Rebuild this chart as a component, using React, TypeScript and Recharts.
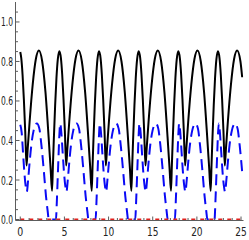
import { LineChart, Line, XAxis, YAxis } from "recharts";

const FRAME = "#5c5c5c";
const LABEL = "#222";
const FONT = "'Liberation Sans Narrow', 'DejaVu Sans Condensed', 'Liberation Sans', sans-serif";

// tick positions (Mathematica-style frame: majors labelled, minors unlabelled)
const xMajorTicks = [0, 5, 10, 15, 20, 25];
const xMinorTicks = [1, 2, 3, 4, 6, 7, 8, 9, 11, 12, 13, 14, 16, 17, 18, 19, 21, 22, 23, 24];
const yMajorTicks = [0, 0.2, 0.4, 0.6, 0.8, 1.0];
const yMinorTicks = [0.05, 0.1, 0.15, 0.25, 0.3, 0.35, 0.45, 0.5, 0.55, 0.65, 0.7, 0.75, 0.85, 0.9, 0.95, 1.05];

// black solid curve
const blackT = [
  0, 0.11, 0.26, 0.41, 0.56, 0.71, 0.85, 1.06, 1.41, 1.76, 2.11, 2.48, 2.85, 3.21, 3.44, 3.6,
  3.7, 3.8, 3.95, 4.1, 4.25, 4.43, 4.6, 4.75, 4.9, 5.05, 5.2, 5.34, 5.55, 5.9, 6.25, 6.6, 6.97, 7.34, 7.7, 7.93, 8.09,
  8.19, 8.29, 8.44, 8.59, 8.74, 8.92, 9.09, 9.24, 9.39, 9.54, 9.69, 9.83, 10.04, 10.39, 10.74, 11.09, 11.46, 11.83, 12.19, 12.42, 12.58,
  12.68, 12.78, 12.93, 13.08, 13.23, 13.41, 13.58, 13.73, 13.88, 14.03, 14.18, 14.32, 14.53, 14.88, 15.23, 15.58, 15.95, 16.32, 16.68, 16.91, 17.07,
  17.17, 17.27, 17.42, 17.57, 17.72, 17.9, 18.07, 18.22, 18.37, 18.52, 18.67, 18.81, 19.02, 19.37, 19.72, 20.07, 20.44, 20.81, 21.17, 21.4, 21.56,
  21.66, 21.76, 21.91, 22.06, 22.21, 22.39, 22.56, 22.71, 22.86, 23.01, 23.16, 23.3, 23.51, 23.86, 24.21, 24.56, 24.93, 25.13,
];
const blackV = [
  0.848, 0.818, 0.733, 0.606, 0.448, 0.273, 0.364, 0.496, 0.684, 0.811, 0.855, 0.801, 0.647, 0.417, 0.256, 0.145,
  0.278, 0.406, 0.579, 0.718, 0.811, 0.852, 0.818, 0.733, 0.606, 0.448, 0.273, 0.364, 0.496, 0.684, 0.811, 0.855, 0.801, 0.647, 0.417, 0.256, 0.145,
  0.278, 0.406, 0.579, 0.718, 0.811, 0.852, 0.818, 0.733, 0.606, 0.448, 0.273, 0.364, 0.496, 0.684, 0.811, 0.855, 0.801, 0.647, 0.417, 0.256, 0.145,
  0.278, 0.406, 0.579, 0.718, 0.811, 0.852, 0.818, 0.733, 0.606, 0.448, 0.273, 0.364, 0.496, 0.684, 0.811, 0.855, 0.801, 0.647, 0.417, 0.256, 0.145,
  0.278, 0.406, 0.579, 0.718, 0.811, 0.852, 0.818, 0.733, 0.606, 0.448, 0.273, 0.364, 0.496, 0.684, 0.811, 0.855, 0.801, 0.647, 0.417, 0.256, 0.145,
  0.278, 0.406, 0.579, 0.718, 0.811, 0.852, 0.818, 0.733, 0.606, 0.448, 0.273, 0.364, 0.496, 0.684, 0.811, 0.855, 0.801, 0.72,
];

// blue dashed curve
const blueT = [
  0, 0.16, 0.31, 0.46, 0.61, 0.74, 0.89, 1.06, 1.26, 1.51, 1.88, 2.16, 2.41, 2.66, 2.91, 3.11, 3.23,
  4.04, 4.14, 4.24, 4.34, 4.43, 4.52, 4.65, 4.8, 4.95, 5.1, 5.23, 5.38, 5.55, 5.75, 6.0, 6.37, 6.65, 6.9, 7.15, 7.4, 7.6, 7.72,
  8.53, 8.63, 8.73, 8.83, 8.92, 9.01, 9.14, 9.29, 9.44, 9.59, 9.72, 9.87, 10.04, 10.24, 10.49, 10.86, 11.14, 11.39, 11.64, 11.89, 12.09, 12.21,
  13.02, 13.12, 13.22, 13.32, 13.41, 13.5, 13.63, 13.78, 13.93, 14.08, 14.21, 14.36, 14.53, 14.73, 14.98, 15.35, 15.63, 15.88, 16.13, 16.38, 16.58, 16.7,
  17.51, 17.61, 17.71, 17.81, 17.9, 17.99, 18.12, 18.27, 18.42, 18.57, 18.7, 18.85, 19.02, 19.22, 19.47, 19.84, 20.12, 20.37, 20.62, 20.87, 21.07, 21.19,
  22.0, 22.1, 22.2, 22.3, 22.39, 22.48, 22.61, 22.76, 22.91, 23.06, 23.19, 23.34, 23.51, 23.71, 23.96, 24.33, 24.61, 24.86, 25.13,
];
const blueV = [
  0.48, 0.44, 0.34, 0.24, 0.17, 0.14, 0.2, 0.29, 0.38, 0.45, 0.486, 0.46, 0.37, 0.25, 0.12, 0.04, 0,
  0, 0.09, 0.21, 0.33, 0.43, 0.486, 0.44, 0.34, 0.24, 0.17, 0.14, 0.2, 0.29, 0.38, 0.45, 0.486, 0.46, 0.37, 0.25, 0.12, 0.04, 0,
  0, 0.09, 0.21, 0.33, 0.43, 0.486, 0.44, 0.34, 0.24, 0.17, 0.14, 0.2, 0.29, 0.38, 0.45, 0.486, 0.46, 0.37, 0.25, 0.12, 0.04, 0,
  0, 0.09, 0.21, 0.33, 0.43, 0.486, 0.44, 0.34, 0.24, 0.17, 0.14, 0.2, 0.29, 0.38, 0.45, 0.486, 0.46, 0.37, 0.25, 0.12, 0.04, 0,
  0, 0.09, 0.21, 0.33, 0.43, 0.486, 0.44, 0.34, 0.24, 0.17, 0.14, 0.2, 0.29, 0.38, 0.45, 0.486, 0.46, 0.37, 0.25, 0.12, 0.04, 0,
  0, 0.09, 0.21, 0.33, 0.43, 0.486, 0.44, 0.34, 0.24, 0.17, 0.14, 0.2, 0.29, 0.38, 0.45, 0.486, 0.46, 0.37, 0.24,
];

// red dashed curve, flat on zero
const redT = [0, 25.13];
const redV = [0, 0];

const toRows = (ts: number[], vs: number[]) => ts.map((t, i) => ({ t, v: vs[i] }));
const blackData = toRows(blackT, blackV);
const blueData = toRows(blueT, blueV);
const redData = toRows(redT, redV);

const X_DOMAIN: [number, number] = [-0.54, 25.28];
const Y_DOMAIN: [number, number] = [-0.005, 1.101];

function xTick(side: "bottom" | "top") {
  return (props: any) => {
    const { x, y, payload } = props;
    const major = xMajorTicks.includes(payload.value);
    const len = major ? 4 : 2.5;
    const dir = side === "bottom" ? -1 : 1;
    const label = String(payload.value);
    return (
      <g>
        <line x1={x} y1={y} x2={x} y2={y + dir * len} stroke={FRAME} strokeWidth={1} />
        {side === "bottom" && major && (
          <text
            x={x}
            y={y + 15.5}
            textAnchor="middle"
            fontSize={13}
            fill={LABEL}
            fontFamily={FONT}
            textLength={label.length > 1 ? 11.5 : 6}
            lengthAdjust="spacingAndGlyphs"
          >
            {label}
          </text>
        )}
      </g>
    );
  };
}

function yTick(side: "left" | "right") {
  return (props: any) => {
    const { x, y, payload } = props;
    const major = yMajorTicks.some((m) => Math.abs(m - payload.value) < 1e-6);
    const len = major ? 4 : 2.5;
    const dir = side === "left" ? 1 : -1;
    return (
      <g>
        <line x1={x} y1={y} x2={x + dir * len} y2={y} stroke={FRAME} strokeWidth={1} />
        {side === "left" && major && (
          <text
            x={x - 2.5}
            y={y}
            dy="0.36em"
            textAnchor="end"
            fontSize={12.5}
            fill={LABEL}
            fontFamily={FONT}
            textLength={12}
            lengthAdjust="spacingAndGlyphs"
          >
            {Number(payload.value).toFixed(1)}
          </text>
        )}
      </g>
    );
  };
}

export default function App() {
  return (
    <div style={{ position: "absolute", left: 0, top: 0, width: 249, height: 240, background: "#fff" }}>
      <LineChart width={249} height={240} margin={{ top: 2, right: 5.5, left: 0, bottom: 0 }}>
        <XAxis
          dataKey="t"
          type="number"
          domain={X_DOMAIN}
          allowDataOverflow
          ticks={[...xMajorTicks, ...xMinorTicks]}
          interval={0}
          height={19.5}
          tickSize={0}
          tickMargin={0}
          tickLine={false}
          axisLine={{ stroke: FRAME, strokeWidth: 1 }}
          tick={xTick("bottom")}
        />
        <XAxis
          xAxisId="top"
          orientation="top"
          dataKey="t"
          type="number"
          domain={X_DOMAIN}
          allowDataOverflow
          ticks={[...xMajorTicks, ...xMinorTicks]}
          interval={0}
          height={0}
          tickSize={0}
          tickMargin={0}
          tickLine={false}
          axisLine={{ stroke: FRAME, strokeWidth: 1 }}
          tick={xTick("top")}
        />
        <YAxis
          type="number"
          domain={Y_DOMAIN}
          allowDataOverflow
          ticks={[...yMajorTicks, ...yMinorTicks]}
          interval={0}
          width={15.5}
          tickSize={0}
          tickMargin={0}
          tickLine={false}
          axisLine={{ stroke: FRAME, strokeWidth: 1 }}
          tick={yTick("left")}
        />
        <YAxis
          yAxisId="right"
          orientation="right"
          type="number"
          domain={Y_DOMAIN}
          allowDataOverflow
          ticks={[...yMajorTicks, ...yMinorTicks]}
          interval={0}
          width={0}
          tickSize={0}
          tickMargin={0}
          tickLine={false}
          axisLine={{ stroke: FRAME, strokeWidth: 1 }}
          tick={yTick("right")}
        />
        <Line
          data={blackData}
          dataKey="v"
          type="monotone"
          stroke="#000"
          strokeWidth={2}
          dot={false}
          isAnimationActive={false}
        />
        <Line
          data={blueData}
          dataKey="v"
          type="monotone"
          stroke="#0a0af5"
          strokeWidth={2}
          strokeDasharray="11 6"
          dot={false}
          isAnimationActive={false}
        />
        <Line
          data={redData}
          dataKey="v"
          type="linear"
          stroke="#e0201c"
          strokeWidth={2}
          strokeDasharray="4 5"
          dot={false}
          isAnimationActive={false}
        />
      </LineChart>
    </div>
  );
}
